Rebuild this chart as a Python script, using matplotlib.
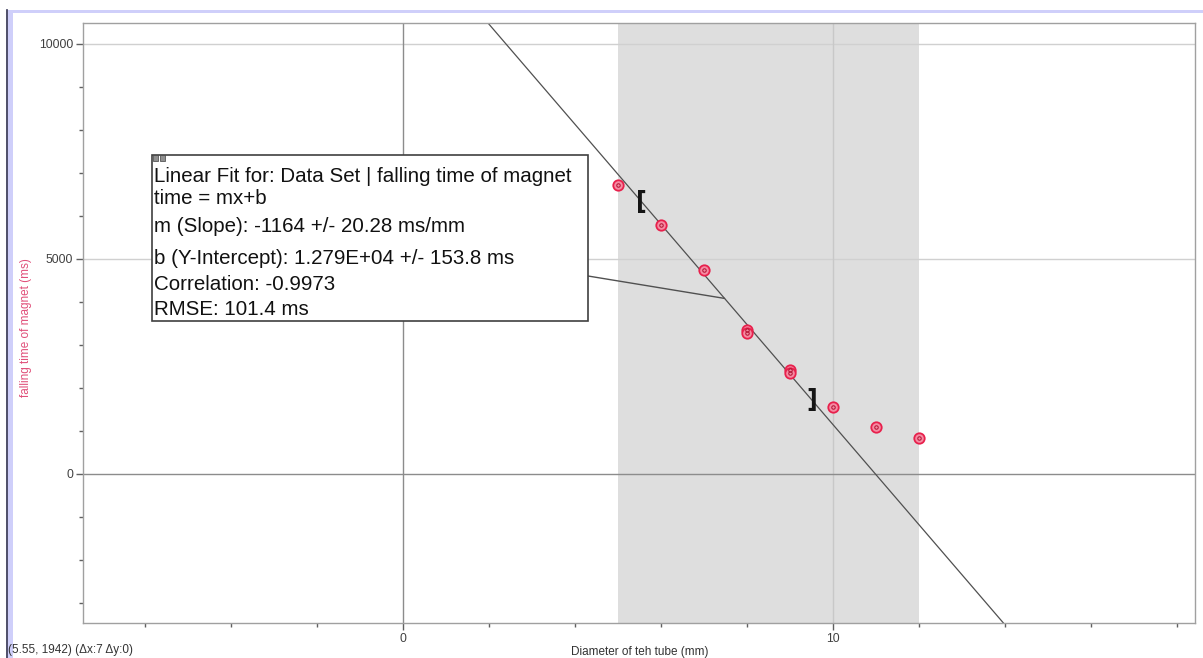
import matplotlib
matplotlib.use("Agg")
import matplotlib.pyplot as plt
import numpy as np
from matplotlib.patches import Rectangle, ConnectionPatch
from matplotlib.lines import Line2D

plt.rcParams['font.family'] = ['Liberation Sans', 'DejaVu Sans']

# ---- data ----
diameter_mm = [5, 6, 7, 8, 8, 9, 9, 10, 11, 12]
fall_time_ms = [6720, 5790, 4740, 3360, 3280, 2420, 2340, 1560, 1085, 830]

fit_slope = -1164.0       # ms/mm
fit_intercept = 12790.0   # ms
fit_range = [5.55, 9.5]   # brackets
select_range = [5.0, 12.0]  # shaded selection
leader_x = 7.48

box_lines = [
    "Linear Fit for: Data Set | falling time of magnet",
    "time = mx+b",
    "m (Slope): -1164 +/- 20.28 ms/mm",
    "b (Y-Intercept): 1.279E+04 +/- 153.8 ms",
    "Correlation: -0.9973",
    "RMSE: 101.4 ms",
]
status_text = "(5.55, 1942) (\u0394x:7 \u0394y:0)"
x_label = "Diameter of teh tube (mm)"
y_label = "falling time of magnet (ms)"

W, H = 1203, 658
fig = plt.figure(figsize=(W / 100, H / 100), dpi=100)

def fx(px):
    return px / W

def fy(py):
    return 1 - py / H

# window border decorations
fig.patches.append(Rectangle((fx(8), fy(13)), 1, fy(10) - fy(13), transform=fig.transFigure,
                             facecolor='#cfcffa', edgecolor='none', zorder=0))
fig.patches.append(Rectangle((fx(8), 0), fx(5), fy(10), transform=fig.transFigure,
                             facecolor='#cfcffa', edgecolor='none', zorder=0))
fig.lines.append(Line2D([fx(7), fx(7)], [0, fy(10)], transform=fig.transFigure,
                        color='#303050', lw=1.2))

ax = fig.add_axes([fx(83), fy(623), fx(1195) - fx(83), fy(23) - fy(623)])
ax.set_xlim(-7.44, 18.42)
ax.set_ylim(-3465, 10488)

for s in ax.spines.values():
    s.set_color('#a0a0a0')
    s.set_linewidth(1.0)

ax.set_xticks([0, 10])
ax.set_xticks(np.arange(-6, 19, 2), minor=True)
ax.set_yticks([0, 5000, 10000])
ax.set_yticks(np.arange(-3000, 10001, 1000), minor=True)
ax.tick_params(which='both', direction='out', colors='#606060', labelcolor='#404040',
               labelsize=8.8, width=1.0)
ax.tick_params(which='major', length=5, pad=2)
ax.tick_params(which='minor', length=3)

# shaded selection
ax.axvspan(select_range[0], select_range[1], color='#dedede', zorder=0.5, lw=0)

# grid lines
for gy in [5000, 10000]:
    ax.axhline(gy, color='#d0d0d0', lw=1.0, zorder=0.6)
ax.axvline(10, color='#c8c8c8', lw=1.0, zorder=0.6)
ax.axhline(0, color='#8c8c8c', lw=1.0, zorder=0.7)
ax.axvline(0, color='#8c8c8c', lw=1.0, zorder=0.7)

# fit line across whole axes
xl = np.array(ax.get_xlim())
ax.plot(xl, fit_slope * xl + fit_intercept, color='#505050', lw=0.9, zorder=2)

# data points
ax.plot(diameter_mm, fall_time_ms, linestyle='none', marker='o', ms=7.5,
        mfc='#f58aa2', mec='#e8204c', mew=1.3, zorder=3)
ax.plot(diameter_mm, fall_time_ms, linestyle='none', marker='o', ms=2.5,
        mfc='none', mec='#b01030', mew=0.7, zorder=4)

# brackets
for xb, txt in zip(fit_range, ["[", "]"]):
    yb = fit_slope * xb + fit_intercept
    ax.text(xb, yb, txt, ha='center', va='center', fontsize=17, color='#151515',
            family='DejaVu Sans', fontweight='bold', zorder=5)

# labels
fig.text(fx(640), fy(652), x_label, ha='center', va='center', fontsize=8.5, color='#333333')
fig.text(fx(26), fy(328), y_label, ha='center', va='center', rotation=90,
         fontsize=8.5, color='#e0507a')
fig.text(fx(8), fy(650), status_text, ha='left', va='center', fontsize=8.5, color='#333333')

# annotation box
bx0, by0, bx1, by1 = 152, 155, 588, 321
fig.patches.append(Rectangle((fx(bx0), fy(by1)), fx(bx1) - fx(bx0), fy(by0) - fy(by1),
                             transform=fig.transFigure, facecolor='white',
                             edgecolor='#404040', lw=1.2, zorder=10))
# small icons at top-left corner
for ix in [153, 160]:
    fig.patches.append(Rectangle((fx(ix), fy(161)), fx(5), fy(155) - fy(161),
                                 transform=fig.transFigure, facecolor='#909090',
                                 edgecolor='#404040', lw=0.5, zorder=11))
line_y = [176, 198, 226, 259, 285, 309]
for t, yy in zip(box_lines, line_y):
    fig.text(fx(154), fy(yy), t, ha='left', va='center', fontsize=14.8,
             color='#111111', zorder=12)

# leader line from box to fit line
con = ConnectionPatch(xyA=(fx(bx1), fy(276)), coordsA=fig.transFigure,
                      xyB=(leader_x, fit_slope * leader_x + fit_intercept), coordsB=ax.transData,
                      color='#505050', lw=1.0, zorder=9)
fig.add_artist(con)

fig.savefig("out.png", dpi=100)
